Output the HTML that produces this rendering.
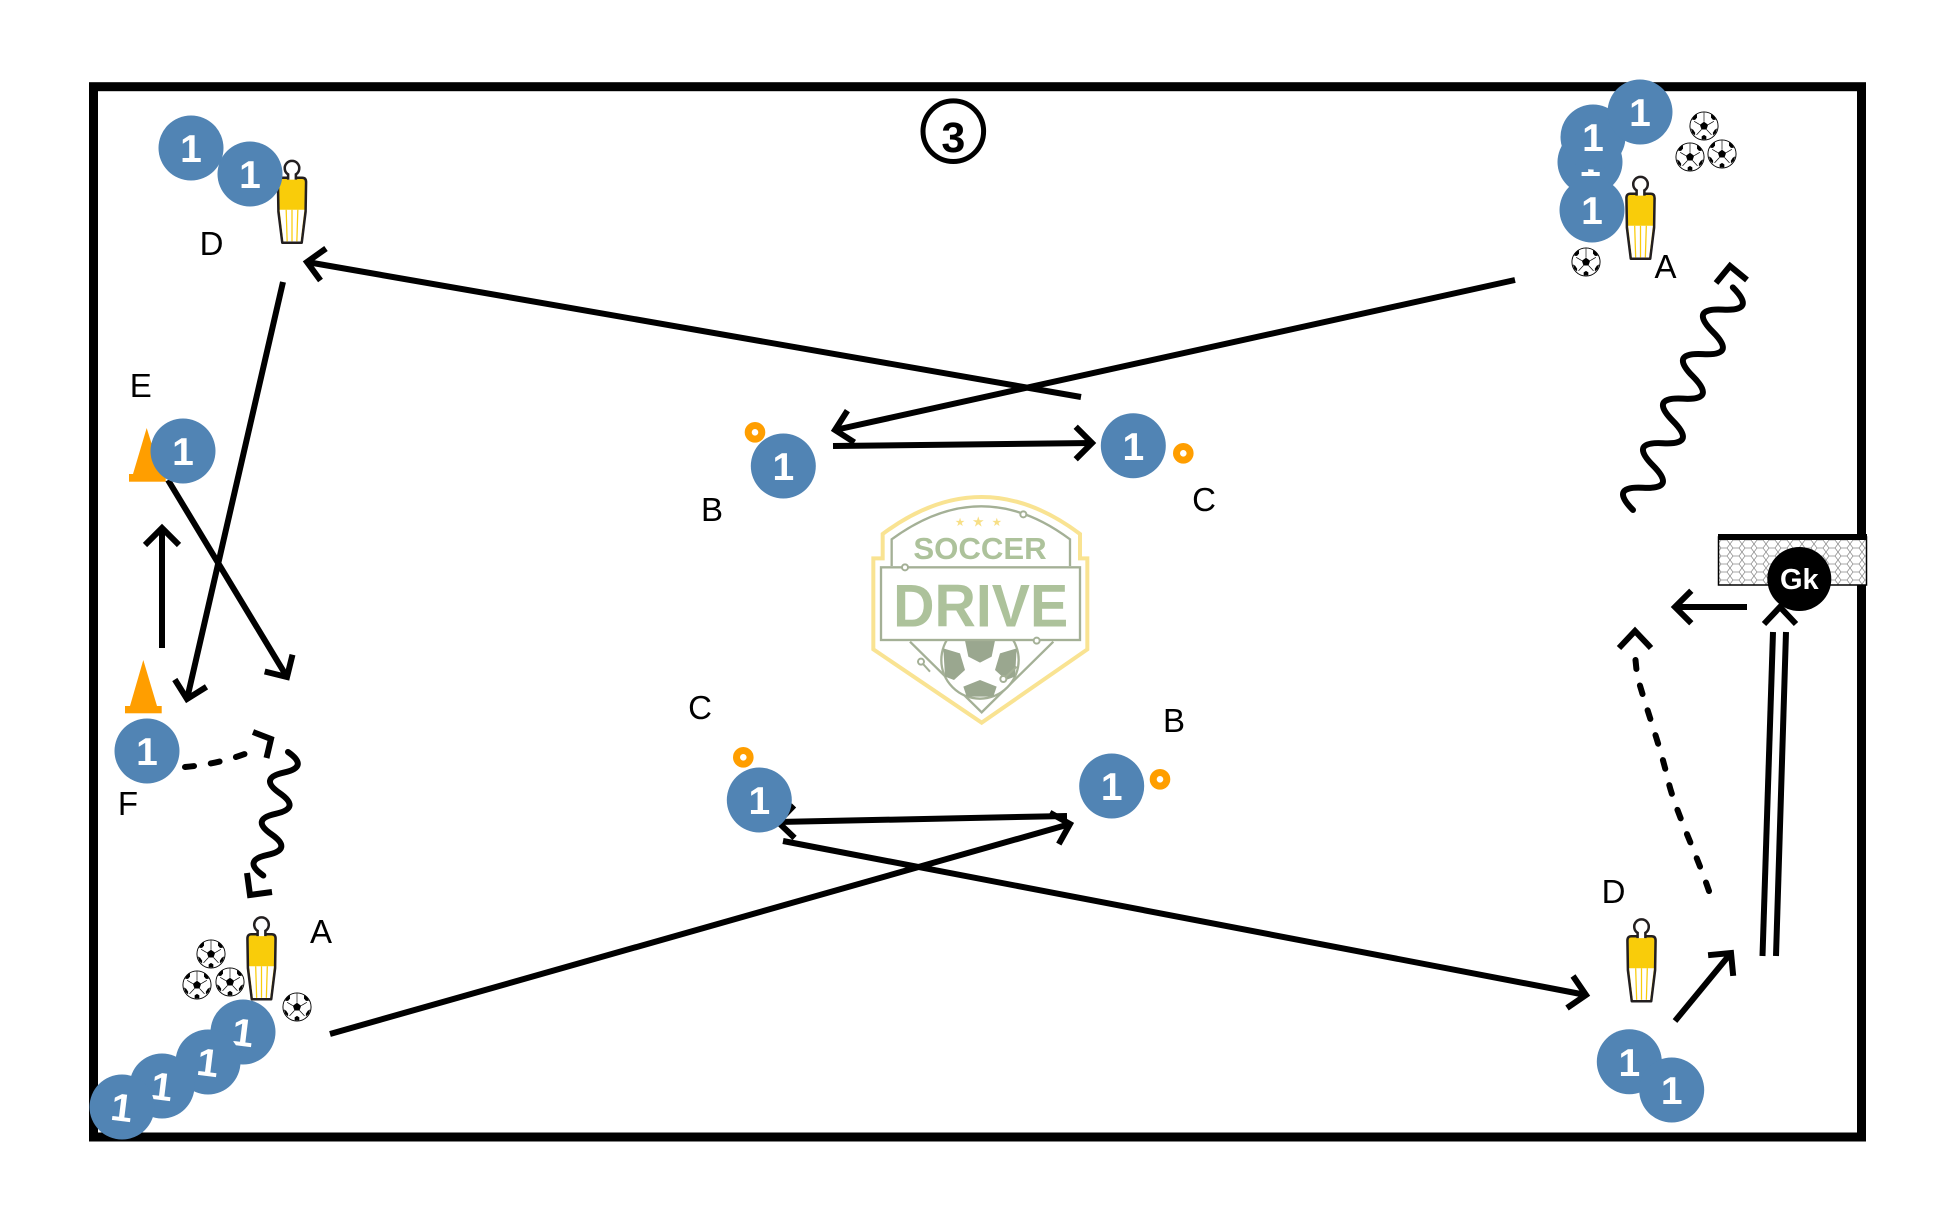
<!DOCTYPE html>
<html><head><meta charset="utf-8"><style>
html,body{margin:0;padding:0;background:#fff;}
svg{display:block;}
text{font-family:"Liberation Sans",Arial,sans-serif;}
</style></head><body>
<svg width="1959" height="1224" viewBox="0 0 1959 1224" xmlns="http://www.w3.org/2000/svg">
<defs>
  <symbol id="ball" viewBox="-16 -16 32 32">
    <circle r="15" fill="#fff" stroke="#000" stroke-width="1"/>
    <polygon points="0,-4.6 4.4,-1.4 2.7,3.7 -2.7,3.7 -4.4,-1.4" fill="#000"/>
    <g fill="#000">
      <polygon points="7.5,-12.5 11.5,-10 12.5,-6.5 9.5,-6.5 7.5,-9"/>
      <polygon points="14,2.5 12.5,7.5 9.5,10 9.5,7 11.5,4"/>
      <polygon points="-2.5,14.3 2.5,14.3 2.5,11 0,9.5 -2.5,11"/>
      <polygon points="-14,2.5 -12.5,7.5 -9.5,10 -9.5,7 -11.5,4"/>
      <polygon points="-7.5,-12.5 -11.5,-10 -12.5,-6.5 -9.5,-6.5 -7.5,-9"/>
    </g>
    <g stroke="#000" stroke-width="0.7">
      <line x1="0" y1="-4.6" x2="0" y2="-14.5"/>
      <line x1="4.4" y1="-1.4" x2="10.5" y2="-5"/>
      <line x1="2.7" y1="3.7" x2="8" y2="9.5"/>
      <line x1="-2.7" y1="3.7" x2="-8" y2="9.5"/>
      <line x1="-4.4" y1="-1.4" x2="-10.5" y2="-5"/>
    </g>
  </symbol>
  <symbol id="man" viewBox="0 0 34 88">
    <path d="M12,19 L6.5,19 Q2.5,19 2.5,23.5 L3,54 L7,86 L27,86 L31,54 L31.5,23.5 Q31.5,19 27.5,19 L22,19 Z" fill="#f9cc0a" stroke="#231f20" stroke-width="2.6" stroke-linejoin="round"/>
    <path d="M4.3,52 L29.7,52 L25.8,84.7 L8.2,84.7 Z" fill="#fff"/>
    <g stroke="#f9cc0a" stroke-width="1.3">
      <line x1="11" y1="52" x2="12" y2="84.5"/>
      <line x1="17" y1="52" x2="17" y2="84.5"/>
      <line x1="23" y1="52" x2="22" y2="84.5"/>
    </g>
    <path d="M13,21 L13,15.5 A7.5,7.5 0 1 1 21,15.5 L21,21" fill="#fff" stroke="#231f20" stroke-width="2.6"/>
  </symbol>
  <pattern id="net" patternUnits="userSpaceOnUse" width="12" height="8" x="1718" y="540">
    <rect width="12" height="8" fill="#fff"/>
    <path d="M0,4 L3,0 L9,0 L12,4 L9,8 L3,8 Z" fill="none" stroke="#8a8a8a" stroke-width="0.7"/>
  </pattern>
</defs>

<rect width="1959" height="1224" fill="#fff"/>

<!-- Field border -->
<rect x="93.5" y="86.7" width="1768" height="1050.3" fill="none" stroke="#000" stroke-width="9"/>

<!-- Logo watermark -->
<g transform="translate(850,480) scale(0.33333)">
  <path d="M70,235 L98,235 L98,162 Q395,-60 690,162 L690,235 L712,235 L712,508 L395,728 L70,508 Z" fill="none" stroke="#f9e392" stroke-width="12" stroke-linejoin="miter"/>
  <path d="M125,258 L125,178 Q395,-20 660,178 L660,258" fill="none" stroke="#a4b096" stroke-width="7"/>
  <circle cx="520" cy="103" r="9" fill="#fff" stroke="#a4b096" stroke-width="6"/>
  <path d="M180,485 L395,697 L610,485" fill="none" stroke="#a4b096" stroke-width="7"/>
  <circle cx="390" cy="540" r="116" fill="#fff" stroke="#a4b096" stroke-width="7"/>
  <polygon points="345,482 435,482 425,530 390,548 355,530" fill="#9aa78f"/>
  <polygon points="280,505 330,520 345,570 312,600 285,590" fill="#9aa78f"/>
  <polygon points="500,505 450,520 435,570 468,600 495,590" fill="#9aa78f"/>
  <polygon points="340,620 390,600 440,620 430,650 350,650" fill="#9aa78f"/>
  <path d="M213,545 L240,575" stroke="#a4b096" stroke-width="6"/>
  <circle cx="213" cy="545" r="9" fill="#fff" stroke="#a4b096" stroke-width="6"/>
  <path d="M460,597 L500,560" stroke="#a4b096" stroke-width="6"/>
  <circle cx="460" cy="597" r="9" fill="#fff" stroke="#a4b096" stroke-width="6"/>
  <rect x="93" y="262" width="597" height="218" fill="#fff" stroke="#a4b096" stroke-width="7"/>
  <circle cx="165" cy="262" r="9" fill="#fff" stroke="#a4b096" stroke-width="6"/>
  <circle cx="560" cy="482" r="9" fill="#fff" stroke="#a4b096" stroke-width="6"/>
  <text x="390" y="237" font-size="93" font-weight="bold" fill="#adc29b" text-anchor="middle" textLength="400" lengthAdjust="spacingAndGlyphs">SOCCER</text>
  <text x="392" y="440" font-size="180" font-weight="bold" fill="#adc29b" text-anchor="middle" textLength="525" lengthAdjust="spacingAndGlyphs">DRIVE</text>
  <text x="330" y="138" font-size="34" fill="#f7df86" text-anchor="middle">★</text>
  <text x="385" y="140" font-size="42" fill="#f7df86" text-anchor="middle">★</text>
  <text x="440" y="138" font-size="34" fill="#f7df86" text-anchor="middle">★</text>
</g>

<!-- Circled 3 -->
<circle cx="953.3" cy="131.2" r="30.3" fill="none" stroke="#000" stroke-width="5"/>
<text x="953.3" y="152" font-size="43" font-weight="bold" text-anchor="middle" fill="#000">3</text>

<!-- Cones -->
<polygon points="146.7,428 133,474 161,474" fill="#ff9e00"/>
<rect x="129" y="474" width="36.7" height="7.7" fill="#ff9e00"/>
<polygon points="143.3,660 130,706 157,706" fill="#ff9e00"/>
<rect x="125" y="706" width="36.7" height="7.3" fill="#ff9e00"/>

<!-- Orange rings -->
<g fill="none" stroke="#ff9e00" stroke-width="7">
  <circle cx="755" cy="432.3" r="6.8"/>
  <circle cx="1183.3" cy="453.3" r="6.8"/>
  <circle cx="743.3" cy="757.3" r="6.8"/>
  <circle cx="1160" cy="779.3" r="6.8"/>
</g>

<!-- Goal -->
<rect x="1718.5" y="537" width="148" height="48" fill="url(#net)" stroke="#000" stroke-width="1.5"/>
<rect x="1718" y="534" width="149" height="6" fill="#000"/>

<!-- Arrows -->
<g fill="none" stroke="#000" stroke-width="6" stroke-linecap="butt" stroke-linejoin="miter">
  <path d="M1081,397 L307,262"/>
  <path d="M326,248.5 L307,262 L320.5,280.5"/>
  <path d="M1515,280 L835,430"/>
  <path d="M847.4,410.6 L835,430 L854.4,442.4"/>
  <path d="M833,446 L1092,443"/>
  <path d="M1075.7,426.7 L1092,443 L1075.7,459.3"/>
  <path d="M283,282 L187,699"/>
  <path d="M174.8,679.5 L187,699 L206.5,686.8"/>
  <path d="M168,480 L287,677"/>
  <path d="M264.7,671.5 L287,677 L292.5,654.7"/>
  <path d="M162,648 L162,528"/>
  <path d="M145,545 L162,528 L179,545"/>
  <path d="M185,767 Q220,764 250,752" stroke-linecap="round" stroke-dasharray="9 17"/>
  <path d="M253,732 L271,739 L266.5,758"/>
  <path transform="translate(288,752) rotate(101.3)" d="M0,0 q10.5,-24 21,0 t21,0 t21,0 t21,0 t21,0 t21,0" stroke-linecap="round"/>
  <path d="M247,873 L250,895 L272,892"/>
  <path d="M330,1034 L1070,824"/>
  <path d="M1058.8,844.1 L1070,824 L1049.9,812.8"/>
  <path d="M1067,816 L778,822"/>
  <path d="M794,805.4 L778,822 L794.6,837.9"/>
  <path d="M783,841 L1586,995"/>
  <path d="M1573,976 L1586,995 L1567,1008"/>
  <path d="M1675,1021 L1731,953"/>
  <path d="M1708.1,955.2 L1731,953 L1733.2,975.9"/>
  <path d="M1773,632 L1762.5,956"/>
  <path d="M1786,632 L1776,956"/>
  <path d="M1764,624 L1780,607 L1796,624"/>
  <path d="M1747,607 L1675,607"/>
  <path d="M1691.3,590.7 L1675,607 L1691.3,623.3"/>
  <path d="M1709,891 C1695,850 1675,810 1668,780 C1660,745 1645,705 1637,675 L1635,655" stroke-linecap="round" stroke-dasharray="9 17"/>
  <path d="M1619,648 L1635,631 L1651,648"/>
  <path transform="translate(1633,510) rotate(-65.85)" d="M0,0 q12.2,-32 24.4,0 t24.4,0 t24.4,0 t24.4,0 t24.4,0 t24.4,0 t24.4,0 t24.4,0 t24.4,0 t24.4,0" stroke-linecap="round"/>
  <path d="M1716,283 L1730,266 L1747,280"/>
</g>

<!-- Gk -->
<circle cx="1799.3" cy="579" r="32" fill="#000"/>
<text x="1799.3" y="589" font-size="29" font-weight="bold" fill="#fff" text-anchor="middle">Gk</text>

<!-- Mannequins -->
<use href="#man" x="275.5" y="159" width="33" height="86"/>
<use href="#man" x="1624" y="174" width="33" height="88"/>
<use href="#man" x="245" y="915" width="33" height="87"/>
<use href="#man" x="1625" y="917" width="33" height="87"/>

<!-- Balls -->
<use href="#ball" x="1689" y="111" width="30" height="30"/>
<use href="#ball" x="1675" y="142" width="30" height="30"/>
<use href="#ball" x="1707" y="139" width="30" height="30"/>
<use href="#ball" x="1571" y="247" width="30" height="30"/>
<use href="#ball" x="196" y="939" width="30" height="30"/>
<use href="#ball" x="182" y="970" width="30" height="30"/>
<use href="#ball" x="215" y="967" width="30" height="30"/>
<use href="#ball" x="282" y="992" width="30" height="30"/>

<!-- Players -->
<g font-size="39" font-weight="bold" fill="#fff" text-anchor="middle">
  <circle cx="191" cy="148" r="32.5" fill="#5184b4"/><text x="191" y="162">1</text>
  <circle cx="250" cy="174" r="32.5" fill="#5184b4"/><text x="250" y="188">1</text>

  <circle cx="1590" cy="162" r="32.5" fill="#5184b4"/><text x="1590" y="176">1</text>
  <circle cx="1593" cy="137" r="32.5" fill="#5184b4"/><text x="1593" y="151">1</text>
  <circle cx="1640" cy="112" r="32.5" fill="#5184b4"/><text x="1640" y="126">1</text>
  <circle cx="1592" cy="210" r="32.5" fill="#5184b4"/><text x="1592" y="224">1</text>

  <circle cx="183" cy="451" r="32.5" fill="#5184b4"/><text x="183" y="465">1</text>
  <circle cx="147" cy="751" r="32.5" fill="#5184b4"/><text x="147" y="765">1</text>

  <circle cx="243" cy="1032" r="32.5" fill="#5184b4"/><text x="243" y="1046" transform="rotate(7 243 1032)">1</text>
  <circle cx="208" cy="1062" r="32.5" fill="#5184b4"/><text x="208" y="1076" transform="rotate(7 208 1062)">1</text>
  <circle cx="162" cy="1086" r="32.5" fill="#5184b4"/><text x="162" y="1100" transform="rotate(7 162 1086)">1</text>
  <circle cx="122" cy="1107" r="32.5" fill="#5184b4"/><text x="122" y="1121" transform="rotate(7 122 1107)">1</text>

  <circle cx="783.3" cy="466" r="32.5" fill="#5184b4"/><text x="783.3" y="480">1</text>
  <circle cx="1133.3" cy="445.7" r="32.5" fill="#5184b4"/><text x="1133.3" y="460">1</text>
  <circle cx="759.3" cy="800" r="32.5" fill="#5184b4"/><text x="759.3" y="814">1</text>
  <circle cx="1111.7" cy="786" r="32.5" fill="#5184b4"/><text x="1111.7" y="800">1</text>

  <circle cx="1629.3" cy="1061.7" r="32.5" fill="#5184b4"/><text x="1629.3" y="1076">1</text>
  <circle cx="1671.7" cy="1090" r="32.5" fill="#5184b4"/><text x="1671.7" y="1104">1</text>
</g>

<!-- Labels -->
<g font-size="33" fill="#000" text-anchor="middle">
  <text x="211.5" y="255">D</text>
  <text x="140.7" y="397">E</text>
  <text x="128" y="815">F</text>
  <text x="321" y="943">A</text>
  <text x="1665.5" y="278">A</text>
  <text x="712" y="521">B</text>
  <text x="1204" y="511">C</text>
  <text x="700" y="719">C</text>
  <text x="1174" y="732">B</text>
  <text x="1613.5" y="903">D</text>
</g>
</svg>
</body></html>
